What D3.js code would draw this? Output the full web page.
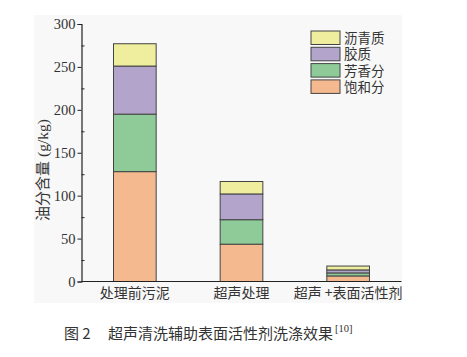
<!DOCTYPE html>
<html><head><meta charset="utf-8">
<script src="https://cdn.jsdelivr.net/npm/d3@7"></script>
<style>
html,body{margin:0;padding:0;background:#fff;}
svg{display:block;}
</style></head>
<body>
<svg id="c" width="467" height="357"></svg>
<script>
const categories = ["处理前污泥", "超声处理", "超声 +表面活性剂"];
const seriesNames = ["饱和分", "芳香分", "胶质", "沥青质"];
const saturates = [128, 43.5, 6.5];
const aromatics = [67, 28.5, 3.5];
const resins = [56, 30, 3.5];
const asphaltenes = [26, 14.5, 4.5];
const colors = ["#f5b990", "#8ecb98", "#b3a4cb", "#eeee9e"];
const yTicks = [0, 50, 100, 150, 200, 250, 300];
const yMinorTicks = [25, 75, 125, 175, 225, 275];
const yLabelCjk = "油分含量";
const yLabelUnit = " (g/kg)";
const figNo = "图 2";
const caption = "超声清洗辅助表面活性剂洗涤效果";
const captionRef = "[10]";

const svg = d3.select("#c");
const cjk = "'Noto Sans CJK SC', sans-serif";
const cjkLegend = "'Liberation Sans', 'Noto Sans CJK SC', sans-serif";
const serif = "'Liberation Serif', 'DejaVu Serif', serif";

// panel background
svg.append("rect").attr("x", 34).attr("y", 15).attr("width", 368).attr("height", 288).attr("fill", "#f8f8f8");

const x = d3.scaleBand().domain(categories).range([81.5, 401.5]).paddingInner(0.6).paddingOuter(0.3);
const y = d3.scaleLinear().domain([0, 300]).range([281.5, 24]);

const table = categories.map((c, i) => ({cat: c, "饱和分": saturates[i], "芳香分": aromatics[i], "胶质": resins[i], "沥青质": asphaltenes[i]}));
const stack = d3.stack().keys(seriesNames)(table);

const g = svg.append("g");
stack.forEach((s, si) => {
  g.selectAll(null).data(s).enter().append("rect")
    .attr("x", d => x(d.data.cat))
    .attr("width", x.bandwidth())
    .attr("y", d => y(d[1]))
    .attr("height", d => y(d[0]) - y(d[1]))
    .attr("fill", colors[si])
    .attr("stroke", "#444")
    .attr("stroke-width", 1);
});

// y axis
const yAxis = svg.append("g").attr("transform", "translate(81.5,0)")
  .call(d3.axisLeft(y).tickValues(yTicks).tickSize(4).tickPadding(2).tickFormat(d3.format("d")));
yAxis.select(".domain").attr("stroke", "#222").attr("stroke-width", 1.2);
yAxis.selectAll(".tick line").attr("stroke", "#222");
yAxis.selectAll("text").attr("font-family", serif).attr("font-size", 14.5).attr("fill", "#333");
const yMinor = svg.append("g").attr("transform", "translate(81.5,0)")
  .call(d3.axisRight(y).tickValues(yMinorTicks).tickSize(3).tickFormat(""));
yMinor.select(".domain").remove();
yMinor.selectAll(".tick line").attr("stroke", "#222");

// x axis
const xAxis = svg.append("g").attr("transform", "translate(0,281.5)")
  .call(d3.axisBottom(x).tickSize(0).tickPadding(7));
xAxis.select(".domain").attr("stroke", "#222").attr("stroke-width", 1.2).attr("d", "M81.5,0H401.5");
xAxis.selectAll("text").attr("font-family", cjk).attr("font-size", 14).attr("fill", "#333");

// y label
const yl = svg.append("text").attr("transform", "translate(48,170) rotate(-90)")
  .attr("text-anchor", "middle").attr("font-size", 15).attr("fill", "#333");
yl.append("tspan").attr("font-family", cjk).text(yLabelCjk);
yl.append("tspan").attr("font-family", serif).attr("font-size", 15.5).text(yLabelUnit);

// legend (top to bottom: 沥青质, 胶质, 芳香分, 饱和分)
const legendOrder = [3, 2, 1, 0];
const lg = svg.append("g");
legendOrder.forEach((si, k) => {
  const yy = 31 + k * 16.3;
  lg.append("rect").attr("x", 311).attr("y", yy).attr("width", 29).attr("height", 13.5)
    .attr("fill", colors[si]).attr("stroke", "#444").attr("stroke-width", 1);
  lg.append("text").attr("x", 344).attr("y", yy + 12).attr("font-family", cjkLegend).attr("font-size", 13.5)
    .attr("fill", "#333").text(seriesNames[si]);
});

// caption
svg.append("text").attr("x", 64).attr("y", 339).attr("font-family", cjk).attr("font-size", 15).attr("fill", "#333").text(figNo);
const cap = svg.append("text").attr("x", 108).attr("y", 339).attr("font-family", cjk).attr("font-size", 15).attr("fill", "#333");
cap.append("tspan").text(caption);
cap.append("tspan").attr("dy", -7).attr("dx", 2).attr("font-family", serif).attr("font-size", 10.5).text(captionRef);
</script>
</body></html>
